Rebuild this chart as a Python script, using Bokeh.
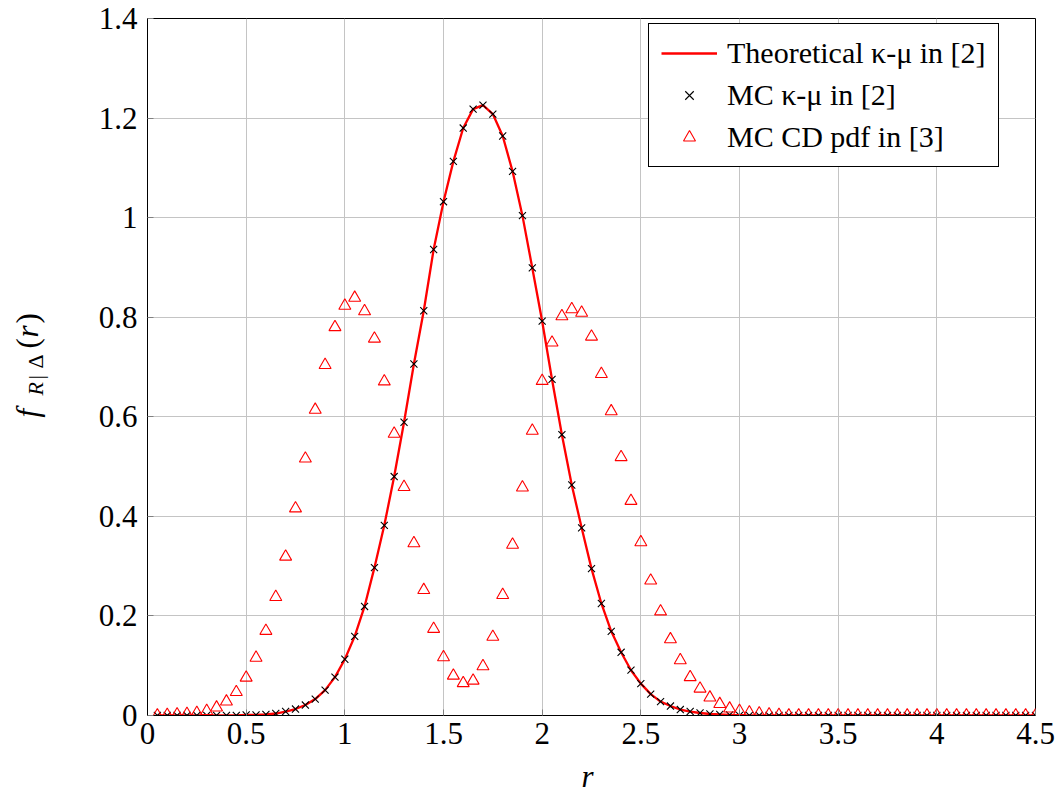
from bokeh.plotting import figure
from bokeh.layouts import row, column
from bokeh.models import FixedTicker, Label, Range1d
from bokeh.embed import file_html
from bokeh.resources import INLINE
import math

# r grid: 0.05 ... 4.5
r = [round(0.05 * i, 2) for i in range(1, 91)]

kappa_mu_mc = [
    0, 0, 0, 0, 0, 0, 0, 0, 0,
    0.001, 0.001, 0.002, 0.004, 0.008, 0.013, 0.021, 0.033, 0.051, 0.077,
    0.113, 0.159, 0.219, 0.297, 0.382, 0.480, 0.589, 0.706, 0.813, 0.936,
    1.032, 1.113, 1.180, 1.218, 1.226, 1.208, 1.164, 1.093, 1.004, 0.899,
    0.792, 0.675, 0.564, 0.463, 0.377, 0.295, 0.225, 0.169, 0.127, 0.091,
    0.064, 0.043, 0.028, 0.019, 0.012, 0.008, 0.005, 0.003, 0.002, 0.001,
    0, 0, 0, 0, 0, 0, 0, 0, 0, 0,
    0, 0, 0, 0, 0, 0, 0, 0, 0, 0,
    0, 0, 0, 0, 0, 0, 0, 0, 0, 0, 0,
]

theory_r = r
theory_f = [
    0, 0, 0, 0, 0, 0, 0, 0, 0,
    0.001, 0.001, 0.002, 0.004, 0.008, 0.013, 0.021, 0.033, 0.051, 0.077,
    0.113, 0.159, 0.219, 0.297, 0.382, 0.480, 0.589, 0.706, 0.813, 0.936,
    1.032, 1.113, 1.180, 1.218, 1.226, 1.208, 1.164, 1.093, 1.004, 0.899,
    0.792, 0.675, 0.564, 0.463, 0.377, 0.295, 0.225, 0.169, 0.127, 0.091,
    0.064, 0.043, 0.028, 0.019, 0.012, 0.008, 0.005, 0.003, 0.002, 0.001,
    0, 0, 0, 0, 0, 0, 0, 0, 0, 0,
    0, 0, 0, 0, 0, 0, 0, 0, 0, 0,
    0, 0, 0, 0, 0, 0, 0, 0, 0, 0, 0,
]

cd_mc = [
    0.000, 0.001, 0.002, 0.003, 0.005, 0.009, 0.016, 0.028, 0.047,
    0.076, 0.116, 0.170, 0.238, 0.319, 0.416, 0.516, 0.614, 0.704, 0.780,
    0.823, 0.839, 0.812, 0.757, 0.671, 0.566, 0.459, 0.346, 0.252, 0.174,
    0.117, 0.080, 0.065, 0.070, 0.099, 0.158, 0.242, 0.343, 0.458, 0.572,
    0.672, 0.749, 0.802, 0.816, 0.809, 0.761, 0.686, 0.611, 0.519, 0.431,
    0.348, 0.271, 0.209, 0.153, 0.111, 0.077, 0.054, 0.036, 0.023, 0.014,
    0.009, 0.006, 0.004, 0.002, 0.001,
    0, 0, 0, 0, 0, 0, 0, 0, 0, 0,
    0, 0, 0, 0, 0, 0, 0, 0, 0, 0,
    0, 0, 0, 0, 0, 0,
]

x_ticks = [0, 0.5, 1, 1.5, 2, 2.5, 3, 3.5, 4, 4.5]
x_tick_labels = ["0", "0.5", "1", "1.5", "2", "2.5", "3", "3.5", "4", "4.5"]
y_ticks = [0, 0.2, 0.4, 0.6, 0.8, 1, 1.2, 1.4]
y_tick_labels = ["0", "0.2", "0.4", "0.6", "0.8", "1", "1.2", "1.4"]

legend_labels = ["Theoretical \u03ba-\u03bc in [2]", "MC \u03ba-\u03bc in [2]", "MC CD pdf in [3]"]

FONT = "Liberation Serif"
W = 1058
LEFT_W = 80
BOTTOM_H = 36
H = 793 - BOTTOM_H
FRAME_TOP, FRAME_BOTTOM = 18, 715


def strip(width, height, y_top, y_bottom):
    # helper figure whose data units equal page pixels (y measured from the top of the page)
    f = figure(width=width, height=height, x_range=Range1d(0, width),
               y_range=Range1d(y_bottom, y_top),
               output_backend="svg", toolbar_location=None, title=None,
               x_axis_location=None, y_axis_location=None,
               min_border=0, min_border_left=0, min_border_right=0,
               min_border_top=0, min_border_bottom=0)
    f.grid.visible = False
    f.outline_line_color = None
    f.background_fill_color = "white"
    f.border_fill_color = "white"
    return f


p = figure(width=W - LEFT_W, height=H,
           x_range=Range1d(0, 4.5), y_range=Range1d(0, 1.4),
           output_backend="svg", toolbar_location=None,
           min_border_left=147 - LEFT_W, min_border_right=23,
           min_border_top=FRAME_TOP, min_border_bottom=H - FRAME_BOTTOM)

p.background_fill_color = "white"
p.border_fill_color = "white"
p.outline_line_color = "black"
p.outline_line_width = 1
p.outline_line_alpha = 1

p.xaxis.ticker = FixedTicker(ticks=x_ticks)
p.yaxis.ticker = FixedTicker(ticks=y_ticks)
p.xaxis.major_label_overrides = {t: l for t, l in zip(x_ticks, x_tick_labels)}
p.yaxis.major_label_overrides = {t: l for t, l in zip(y_ticks, y_tick_labels)}

for ax in (p.xaxis, p.yaxis):
    ax.major_label_text_font = FONT
    ax.major_label_text_font_size = "31px"
    ax.major_label_text_color = "black"
    ax.major_tick_in = 6
    ax.major_tick_out = 0
    ax.minor_tick_in = 0
    ax.minor_tick_out = 0
    ax.major_tick_line_color = "#808080"
    ax.axis_line_color = "black"
    ax.axis_line_width = 1
p.xaxis.major_label_standoff = 7
p.yaxis.major_label_standoff = 10

p.grid.grid_line_color = "#c4c4c4"
p.grid.grid_line_width = 1

p.line(theory_r, theory_f, line_color="#ff0000", line_width=2.3, legend_label=legend_labels[0])
p.scatter(r, kappa_mu_mc, marker="x", size=10, line_color="black", line_width=1.1,
          legend_label=legend_labels[1])
p.scatter(r, cd_mc, marker="triangle", size=12, line_color="#ff0000", fill_color=None,
          line_width=1.1, legend_label=legend_labels[2])

lg = p.legend[0]
lg.location = (501, 548)
lg.border_line_color = "black"
lg.border_line_width = 1
lg.border_line_alpha = 1
lg.background_fill_color = "white"
lg.background_fill_alpha = 1
lg.padding = 12
lg.spacing = 8
lg.margin = 0
lg.label_standoff = 10
lg.glyph_width = 56
lg.glyph_height = 30
lg.label_height = 30
lg.label_text_font = FONT
lg.label_text_font_size = "30px"
lg.label_text_color = "black"

# left strip (its frame is aligned with the main frame): rotated y label f_{R|Δ}(r)
lab = strip(LEFT_W, H, FRAME_TOP, FRAME_BOTTOM)
main_x = 27   # text-centre line for the main-size pieces
sub_x = 35    # text-centre line for the subscript pieces
pieces = [
    ("f", 417, main_x, "31px", "italic"),
    ("R", 395, sub_x, "22px", "italic"),
    ("|", 379, sub_x, "22px", "normal"),
    ("\u0394", 368, sub_x, "22px", "normal"),
    ("(", 348, main_x, "31px", "normal"),
    ("r", 337, main_x, "31px", "italic"),
    (")", 323, main_x, "31px", "normal"),
]
for txt, sy, sx, size, style in pieces:
    lab.add_layout(Label(x=sx, y=sy, text=txt, angle=math.pi / 2,
                         text_align="left", text_baseline="middle",
                         text_font=FONT, text_font_size=size, text_font_style=style,
                         text_color="black"))

# bottom strip: x-axis label r
bot = strip(W, BOTTOM_H, H, 793)
bot.add_layout(Label(x=587, y=775.5, text="r", text_align="center",
                     text_baseline="middle", text_font=FONT, text_font_size="31px",
                     text_font_style="italic", text_color="black"))

layout = column(row(lab, p, spacing=0), bot, spacing=0)
open("out.html", "w").write(file_html(layout, INLINE))
